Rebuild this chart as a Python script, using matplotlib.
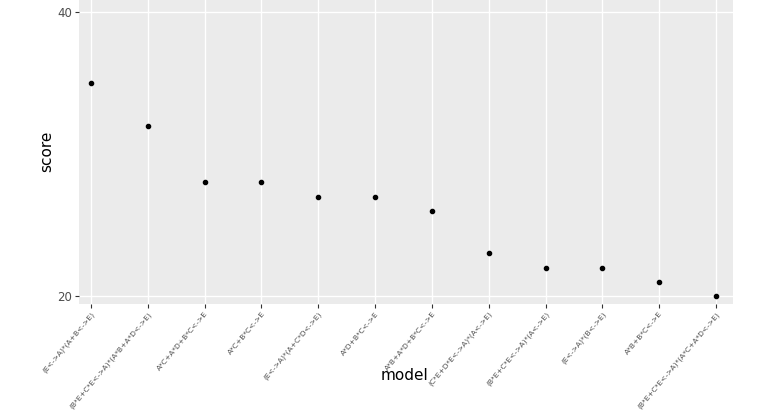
import matplotlib
matplotlib.use("Agg")
import matplotlib.pyplot as plt

models = [
    "(E<->A)*(A+B<->E)",
    "(B*E+C*E<->A)*(A*B+A*D<->E)",
    "A*C+A*D+B*C<->E",
    "A*C+B*C<->E",
    "(E<->A)*(A+C*D<->E)",
    "A*D+B*C<->E",
    "A*B+A*D+B*C<->E",
    "(C*E+D*E<->A)*(A<->E)",
    "(B*E+C*E<->A)*(A<->E)",
    "(E<->A)*(B<->E)",
    "A*B+B*C<->E",
    "(B*E+C*E<->A)*(A*C+A*D<->E)",
]
scores = [35, 32, 28, 28, 27, 27, 26, 23, 22, 22, 21, 20]
yticks = [20, 40]

fig = plt.figure(figsize=(7.71, 4.12), dpi=100)
ax = fig.add_axes([79 / 771, (412 - 303.5) / 412, (733 - 79) / 771, 303.5 / 412])
ax.set_facecolor("#EBEBEB")

x = list(range(len(models)))
ax.scatter(x, scores, s=9, color="black", zorder=3)

ax.set_xlim(-0.211, 11.30)
ax.set_ylim(19.47, 40.85)
ax.set_xticks(x)
ax.set_xticklabels(models, rotation=50, ha="right", va="top",
                   rotation_mode="anchor", fontsize=5.4, color="#4D4D4D")
ax.set_yticks(yticks)
ax.set_yticklabels([str(v) for v in yticks], fontsize=8.5, color="#4D4D4D")
ax.grid(True, color="white", linewidth=1.0)
ax.set_axisbelow(True)
for s in ax.spines.values():
    s.set_visible(False)
ax.tick_params(length=3, width=0.8, color="#333333", pad=2)

ax.set_ylabel("score", fontsize=11, labelpad=2)
fig.text(405 / 771, 1 - 375 / 412, "model", fontsize=11, ha="center", va="center")

fig.savefig("out.png", dpi=100)
